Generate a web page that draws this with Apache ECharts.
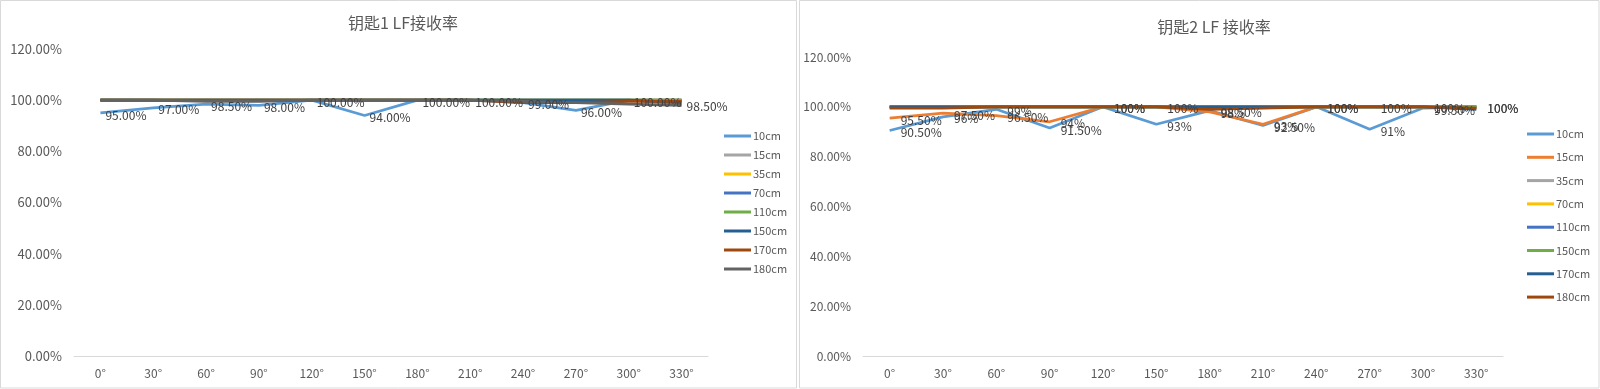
<!DOCTYPE html>
<html>
<head>
<meta charset="utf-8">
<script src="https://cdn.jsdelivr.net/npm/echarts@6/dist/echarts.min.js"></script>
<style>html,body{margin:0;padding:0;background:#fff}#c{width:1600px;height:389px}</style>
</head>
<body>
<div id="c"></div>
<script>
// ---- data ----
const angles = ['0°','30°','60°','90°','120°','150°','180°','210°','240°','270°','300°','330°'];
const yTicks = [0, 20, 40, 60, 80, 100, 120];

const title1 = '钥匙1 LF接收率';
const names1 = ['10cm','15cm','35cm','70cm','110cm','150cm','170cm','180cm'];
const k1_10cm  = [95, 97, 98.5, 98, 100, 94, 100, 100, 99, 96, 100, 98.5];
const k1_15cm  = [100,100,100,100,100,100,100,100,100,100,100,100];
const k1_35cm  = [100,100,100,100,100,100,100,100,100,100,100,100];
const k1_70cm  = [100,100,100,100,100,100,100,100,100,100,100,100];
const k1_110cm = [100,100,100,100,100,100,100,100,100,100,100,100];
const k1_150cm = [100,100,100,100,100,100,100,100,100,100,100,99];
const k1_170cm = [100,100,100,100,100,100,100,100,99,99,99.5,99.5];
const k1_180cm = [100,100,99.5,99.5,100,100,100,100,99.5,99,98.5,98];

const title2 = '钥匙2 LF 接收率';
const names2 = ['10cm','15cm','35cm','70cm','110cm','150cm','170cm','180cm'];
const k2_10cm  = [90.5, 96, 99, 91.5, 100, 93, 98.5, 92.5, 100, 91, 99.5, 100];
const k2_15cm  = [95.5, 97.5, 96.5, 94, 100, 100, 98, 93, 100, 100, 100, 100];
const k2_35cm  = [100,100,100,100,100,100,100,100,100,100,100,100];
const k2_70cm  = [100,100,100,100,100,100,100,100,100,100,100,100];
const k2_110cm = [100,100,100,100,100,100,100,100,100,100,100,100];
const k2_150cm = [100,100,100,100,100,100,100,100,100,100,100,100];
const k2_170cm = [100,100,100,100,100,100,100,100,100,100,100,99];
const k2_180cm = [99.5,99.5,100,100,100,100,99,99.5,100,100,100,99.5];

const colors1 = ['#5B9BD5','#A5A5A5','#FFC000','#4472C4','#70AD47','#255E91','#9E480E','#636363'];
const colors2 = ['#5B9BD5','#ED7D31','#A5A5A5','#FFC000','#4472C4','#70AD47','#255E91','#9E480E'];

const data1 = [k1_10cm,k1_15cm,k1_35cm,k1_70cm,k1_110cm,k1_150cm,k1_170cm,k1_180cm];
const data2 = [k2_10cm,k2_15cm,k2_35cm,k2_70cm,k2_110cm,k2_150cm,k2_170cm,k2_180cm];
const labeled1 = ['10cm'];
const labeled2 = ['10cm','15cm'];

// ---- chart ----
const FONT = '"Noto Sans CJK SC", "Noto Sans", sans-serif';
const TXT = '#595959';
const fmt1 = v => v.toFixed(2) + '%';
const fmt2 = v => (Math.abs(v - Math.round(v)) < 1e-9 ? Math.round(v) + '%' : v.toFixed(2) + '%');

function mkSeries(names, data, colors, labeled, idx, fmt, dist) {
  return names.map((n, i) => ({
    name: n, type: 'line', xAxisIndex: idx, yAxisIndex: idx,
    data: data[i], symbol: 'circle', symbolSize: 0, showSymbol: true,
    lineStyle: { width: 2.75, color: colors[i] }, itemStyle: { color: colors[i] },
    emphasis: { disabled: true }, animation: false,
    label: {
      show: labeled.indexOf(n) >= 0, position: 'right', distance: dist, offset: [0, 2],
      fontSize: 12, color: '#404040', fontFamily: FONT,
      formatter: p => fmt(p.value)
    }
  }));
}

function xAx(gi) {
  return {
    type: 'category', gridIndex: gi, data: angles, boundaryGap: true,
    axisLine: { lineStyle: { color: '#D9D9D9', width: 1 } },
    axisTick: { show: false },
    axisLabel: { color: TXT, fontSize: 12, margin: 11, fontFamily: FONT, interval: 0 }
  };
}
function yAx(gi, fs) {
  return {
    type: 'value', gridIndex: gi, min: yTicks[0], max: yTicks[yTicks.length - 1], interval: yTicks[1] - yTicks[0],
    axisLine: { show: false }, axisTick: { show: false },
    splitLine: { show: false },
    axisLabel: { color: TXT, fontSize: fs, margin: 12, fontFamily: FONT, formatter: v => v.toFixed(2) + '%' }
  };
}

const chart = echarts.init(document.getElementById('c'), null, { renderer: 'canvas' });
chart.setOption({
  animation: false,
  color: colors1,
  title: [
    { text: title1, left: 398, top: 10, textAlign: 'center',
      textStyle: { fontSize: 16, fontWeight: 'normal', color: TXT, fontFamily: FONT } },
    { text: title2, left: 1209, top: 14, textAlign: 'center',
      textStyle: { fontSize: 16, fontWeight: 'normal', color: TXT, fontFamily: FONT } }
  ],
  legend: [
    { data: names1.map((n, i) => ({ name: n, itemStyle: { color: colors1[i] } })),
      orient: 'vertical', left: 719, top: 124, icon: 'rect', itemWidth: 27, itemHeight: 3, itemGap: 5,
      textStyle: { fontSize: 11, color: TXT, fontFamily: FONT, lineHeight: 14, padding: [0,0,0,-3] },
      selectedMode: false },
    { data: names2.map((n, i) => ({ name: n + ' ', itemStyle: { color: colors2[i] } })),
      orient: 'vertical', left: 1522, top: 122, icon: 'rect', itemWidth: 27, itemHeight: 3, itemGap: 9.3,
      textStyle: { fontSize: 11, color: TXT, fontFamily: FONT, lineHeight: 14, padding: [0,0,0,-3] },
      selectedMode: false }
  ],
  grid: [
    { left: 74, top: 49, width: 634, height: 307 },
    { left: 863, top: 57, width: 640, height: 299 }
  ],
  xAxis: [xAx(0), xAx(1)],
  yAxis: [yAx(0, 13), yAx(1, 12)],
  series: mkSeries(names1, data1, colors1, labeled1, 0, fmt1, 5)
    .concat(mkSeries(names2.map(n => n + ' '), data2, colors2, labeled2.map(n => n + ' '), 1, fmt2, 11)),
  graphic: [
    { type: 'rect', shape: { x: 0.5, y: 0.5, width: 796, height: 387.5 }, style: { fill: 'none', stroke: '#D9D9D9', lineWidth: 1 }, silent: true },
    { type: 'rect', shape: { x: 799.5, y: 0.5, width: 799.5, height: 387.5 }, style: { fill: 'none', stroke: '#D9D9D9', lineWidth: 1 }, silent: true }
  ]
});
</script>
</body>
</html>
